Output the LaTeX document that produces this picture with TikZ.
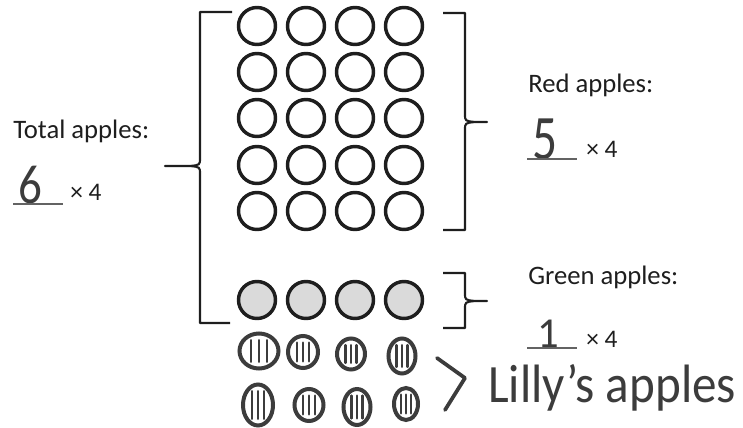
\documentclass[tikz,border=0pt]{standalone}
\usepackage{fontspec}
\setmainfont{Carlito}
\usepackage{tikz}
\usetikzlibrary{calc,shapes.geometric}
\definecolor{inkblack}{HTML}{1E1E1E}
\definecolor{pencil}{HTML}{3C3C3C}
\definecolor{applegray}{HTML}{DADADA}
\tikzset{
  apple/.style={circle, draw=inkblack, line width=2.6pt, minimum size=27.75pt, inner sep=0pt},
  greenapple/.style={apple, fill=applegray},
  lilly/.style 2 args={ellipse, draw=pencil, line width=3pt, inner sep=0pt,
    minimum width={#1*0.75pt}, minimum height={#2*0.75pt},
    path picture={
      \foreach \f in {0.3,0.5,0.7}
        \draw[pencil, line width=1.9pt, line cap=round, shorten <=5pt, shorten >=5pt]
          ($(path picture bounding box.south west)!\f!(path picture bounding box.south east)$) --
          ($(path picture bounding box.north west)!\f!(path picture bounding box.north east)$);
    }},
  heading/.style={font=\fontsize{20}{24}\selectfont, text=inkblack, inner sep=0pt, anchor=base west},
  times/.style={font=\fontsize{19}{22}\selectfont, text=inkblack, inner sep=0pt, anchor=base west},
  digit/.style={font=\fontsize{#1}{#1}\selectfont, text=pencil, inner sep=0pt, anchor=base},
  hand/.style={font=\fontsize{40.5}{44}\selectfont, text=pencil, inner sep=0pt, anchor=base west},
  brace/.style={draw=inkblack, line width=1.6pt, line join=round},
  uline/.style={draw=pencil!80, line width=0.8pt},
  handline/.style={draw=pencil, line width=2.8pt, line cap=round, line join=round}
}
\begin{document}
\begin{tikzpicture}[x=0.75pt, y=-0.75pt]
  \useasboundingbox (0,0) rectangle (743,428);

  % apple grid
  \foreach \c/\x in {1/257,2/306,3/355,4/404} {
    \foreach \r/\y in {1/26,2/72,3/118,4/165,5/211}
      \node[apple] (red-\r-\c) at (\x,\y) {};
    \node[greenapple] (green-\c) at (\x,300) {};
  }

  % Lilly's apples
  \node[lilly={39}{35}] (l11) at (259,351) {};
  \node[lilly={30}{32}] (l12) at (303,352) {};
  \node[lilly={28}{31}] (l13) at (351,354) {};
  \node[lilly={27}{35}] (l14) at (402,356) {};
  \node[lilly={30}{41}] (l21) at (258,405) {};
  \node[lilly={29}{32}] (l22) at (309,405) {};
  \node[lilly={27}{36}] (l23) at (357,407) {};
  \node[lilly={24}{32}] (l24) at (406,404) {};

  % braces
  \draw[brace] (232,12) -- (200,12) -- (200,158) .. controls (200,165) .. (190,166) -- (165,166)
    -- (190,166) .. controls (200,167) .. (200,174) -- (200,323) -- (230,323);
  \draw[brace] (443,13) -- (465,13) -- (465,114) .. controls (465,121) .. (475,122) -- (487,122)
    -- (475,122) .. controls (465,123) .. (465,130) -- (465,230) -- (443,230);
  \draw[brace] (443,273) -- (465,273) -- (465,293) .. controls (465,300) .. (475,301) -- (487,301)
    -- (475,301) .. controls (465,302) .. (465,309) -- (465,328) -- (443,328);
  \draw[handline] (437,358) -- (465,378) -- (445,410);

  % labels
  \node[heading] (total) at (13,138) {Total apples:};
  \node[digit=41.5, xscale=0.85] (totaln) at (30,203) {6};
  \draw[uline] (13,204) -- (63,204);
  \node[times] (totalx) at (70,200) {× 4};

  \node[heading] (red) at (528,93) {Red apples:};
  \node[digit=47.5, xscale=0.78] (redn) at (545,159) {5};
  \draw[uline] (527,159) -- (577,159);
  \node[times] (redx) at (586,157) {× 4};

  \node[heading] (green) at (528,284) {Green apples:};
  \node[digit=32] (greenn) at (548,347) {1};
  \draw[uline] (527,348) -- (577,348);
  \node[times] (greenx) at (586,347) {× 4};

  \node[hand, xscale=0.91] (lilly) at (488,402) {Lilly's apples};
\end{tikzpicture}
\end{document}
